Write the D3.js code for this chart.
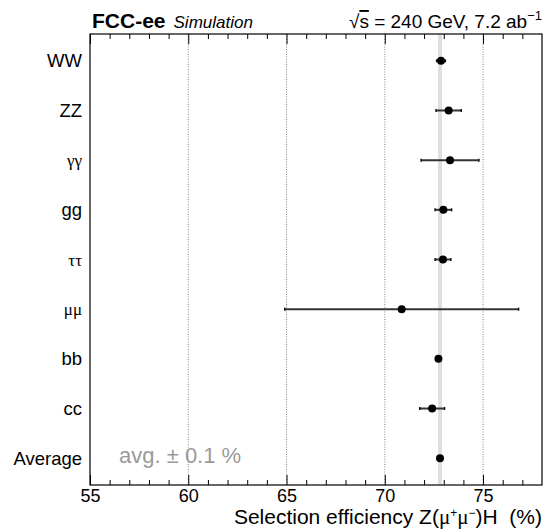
<!DOCTYPE html>
<html>
<head>
<meta charset="utf-8">
<script src="https://cdn.jsdelivr.net/npm/d3@7"></script>
<style>
  body { margin: 0; background: #fff; }
  text { font-family: "Liberation Sans", Arial, Helvetica, sans-serif; }
  .greek { font-family: "Liberation Serif", "Times New Roman", serif; }
</style>
</head>
<body>
<div class="chart"></div>
<script>
// ======= selection efficiency per decay mode =======

const categories = ['WW', 'ZZ', 'γγ', 'gg', 'ττ', 'μμ', 'bb', 'cc', 'Average']
const efficiency = [72.86, 73.25, 73.32, 72.98, 72.96, 70.86, 72.73, 72.41, 72.81]
const errors = [0.22, 0.64, 1.47, 0.42, 0.40, 5.95, 0.05, 0.63, 0.05]
const xTicks = [55, 60, 65, 70, 75]
const avgValue = 72.81
const avgBand = 0.1

const greekLabels = ['γγ', 'ττ', 'μμ']

const W = 546
const H = 530
const margin = { top: 34, right: 4, bottom: 45, left: 90 }
const width = W - margin.left - margin.right
const height = H - margin.top - margin.bottom

const svg = d3.select('.chart')
  .append('svg')
    .attr('width', W)
    .attr('height', H)

const g = svg.append('g')
  .attr('transform', `translate(${margin.left}, ${margin.top})`)

const xScale = d3.scaleLinear()
  .domain([55, 78])
  .range([0, width])

const yScale = d3.scalePoint()
  .domain(categories)
  .range([0, height])
  .padding(0.54)

// dotted grid at the major ticks
g.selectAll('.grid')
  .data(xTicks.slice(1))
  .enter().append('line')
    .attr('x1', d => xScale(d))
    .attr('x2', d => xScale(d))
    .attr('y1', 0)
    .attr('y2', height)
    .style('stroke', '#888')
    .style('stroke-width', 1)
    .style('stroke-dasharray', '1,1.5')

// average band
g.append('rect')
  .attr('x', xScale(avgValue - avgBand))
  .attr('width', xScale(avgValue + avgBand) - xScale(avgValue - avgBand))
  .attr('y', 0)
  .attr('height', height)
  .style('fill', '#dedede')

// error bars
const rows = categories.map((c, i) => ({ cat: c, v: efficiency[i], e: errors[i] }))

g.selectAll('.err')
  .data(rows)
  .enter().append('line')
    .attr('x1', d => xScale(d.v - d.e))
    .attr('x2', d => xScale(d.v + d.e))
    .attr('y1', d => yScale(d.cat))
    .attr('y2', d => yScale(d.cat))
    .style('stroke', '#333')
    .style('stroke-width', 2)

g.selectAll('.cap')
  .data(rows.flatMap(d => [d.v - d.e, d.v + d.e].map(x => ({ x, cat: d.cat }))))
  .enter().append('line')
    .attr('x1', d => xScale(d.x))
    .attr('x2', d => xScale(d.x))
    .attr('y1', d => yScale(d.cat) - 1.5)
    .attr('y2', d => yScale(d.cat) + 1.5)
    .style('stroke', '#111')
    .style('stroke-width', 1.5)

g.selectAll('.dot')
  .data(rows)
  .enter().append('circle')
    .attr('cx', d => xScale(d.v))
    .attr('cy', d => yScale(d.cat))
    .attr('r', 4)
    .style('fill', '#000')

// axes: bottom with labels, top mirrored without
const minor = d3.range(56, 78).filter(d => d % 5 !== 0)

const xAxis = d3.axisBottom(xScale).tickValues(xTicks).tickSize(-10).tickPadding(4)
const xAxisMinor = d3.axisBottom(xScale).tickValues(minor).tickSize(-5).tickFormat('')
const topMajor = d3.axisTop(xScale).tickValues(xTicks).tickSize(-10).tickFormat('')
const topMinor = d3.axisTop(xScale).tickValues(minor).tickSize(-5).tickFormat('')

g.append('g').attr('transform', `translate(0, ${height})`).call(xAxis)
g.append('g').attr('transform', `translate(0, ${height})`).call(xAxisMinor)
g.append('g').call(topMajor)
g.append('g').call(topMinor)

g.selectAll('.domain').remove()
g.selectAll('.tick line').style('stroke', '#000').style('stroke-width', 1)
g.selectAll('.tick text')
  .style('font-size', '18px')
  .style('fill', '#000')

// frame
g.append('rect')
  .attr('width', width)
  .attr('height', height)
  .style('fill', 'none')
  .style('stroke', '#000')
  .style('stroke-width', 1.2)

// category labels
g.selectAll('.cat')
  .data(categories)
  .enter().append('text')
    .attr('class', d => greekLabels.includes(d) ? 'greek' : null)
    .attr('x', -8)
    .attr('y', d => yScale(d))
    .attr('dy', '0.36em')
    .attr('text-anchor', 'end')
    .style('font-size', d => greekLabels.includes(d) ? '17px' : '18.5px')
    .text(d => d)

g.append('text')
  .attr('x', 29)
  .attr('y', yScale('Average') + 5)
  .style('font-size', '22px')
  .style('fill', '#9a9a9a')
  .text('avg. ± 0.1 %')

// header
const head = svg.append('text')
  .attr('x', 92)
  .attr('y', 28)
head.append('tspan')
  .style('font-size', '21px')
  .style('font-weight', 'bold')
  .text('FCC-ee')
head.append('tspan')
  .attr('dx', 8)
  .style('font-size', '17px')
  .style('font-style', 'italic')
  .text('Simulation')

const energy = svg.append('text')
  .attr('x', 542)
  .attr('y', 28)
  .attr('text-anchor', 'end')
  .style('font-size', '19px')
energy.append('tspan').text('√')
energy.append('tspan').style('text-decoration', 'overline').text('s')
energy.append('tspan').text(' = 240 GeV, 7.2 ab')
energy.append('tspan').attr('dy', -8).style('font-size', '13px').text('−1')

// x title with serif mu and small superscripts
const xt = svg.append('text')
  .attr('x', 542)
  .attr('y', 524)
  .attr('text-anchor', 'end')
  .attr('xml:space', 'preserve')
  .style('font-size', '21px')
  .style('white-space', 'pre')
xt.append('tspan').text('Selection efficiency Z(')
xt.append('tspan').attr('class', 'greek').text('μ')
xt.append('tspan').attr('dy', -7).style('font-size', '12px').text('+')
xt.append('tspan').attr('dy', 7).attr('class', 'greek').text('μ')
xt.append('tspan').attr('dy', -7).style('font-size', '12px').text('−')
xt.append('tspan').attr('dy', 7).text(')H  (%)')
</script>
</body>
</html>
